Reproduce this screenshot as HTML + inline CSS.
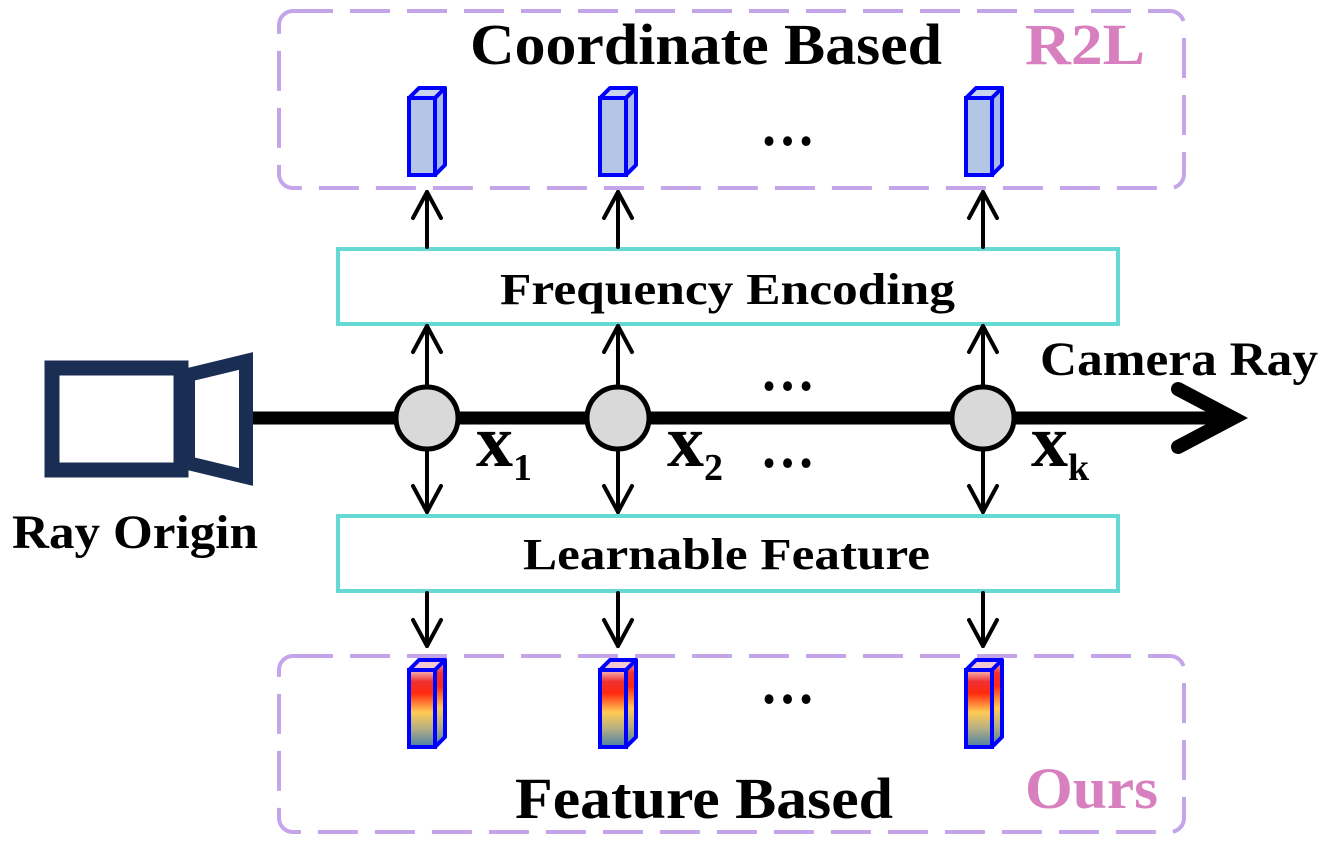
<!DOCTYPE html>
<html><head><meta charset="utf-8"><style>
html,body{margin:0;padding:0;background:#fff;}
svg{display:block;}
text{font-family:"Liberation Serif",serif;font-weight:bold;}
</style></head><body>
<svg width="1325" height="848" viewBox="0 0 1325 848" xmlns="http://www.w3.org/2000/svg">
<defs>
<linearGradient id="hg" x1="0" y1="0" x2="0" y2="1">
<stop offset="0" stop-color="#f7c0c0"/>
<stop offset="0.15" stop-color="#f03030"/>
<stop offset="0.3" stop-color="#ff2a10"/>
<stop offset="0.55" stop-color="#ffcc55"/>
<stop offset="0.75" stop-color="#b8b080"/>
<stop offset="1" stop-color="#4a80a8"/>
</linearGradient>
<g id="cubeA">
<polygon points="0,10 10,0 36,0 26,10" fill="#c8d4ee" stroke="#0000ff" stroke-width="4" stroke-linejoin="round"/>
<polygon points="26,10 36,0 36,77 26,87" fill="#a8b8e8" stroke="#0000ff" stroke-width="4" stroke-linejoin="round"/>
<rect x="0" y="10" width="26" height="77" fill="#b4c6e6" stroke="#0000ff" stroke-width="4"/>
</g>
<g id="cubeB">
<polygon points="0,10 10,0 36,0 26,10" fill="#f4c8d0" stroke="#0000ff" stroke-width="4" stroke-linejoin="round"/>
<polygon points="26,10 36,0 36,77 26,87" fill="url(#hg)" stroke="#0000ff" stroke-width="4" stroke-linejoin="round"/>
<rect x="0" y="10" width="26" height="77" fill="url(#hg)" stroke="#0000ff" stroke-width="4"/>
</g>
</defs>

<rect x="279" y="11" width="905" height="177" rx="14" fill="none" stroke="#c4a5ea" stroke-width="4" stroke-dasharray="40,17"/>
<rect x="279" y="656" width="905" height="176" rx="14" fill="none" stroke="#c4a5ea" stroke-width="4" stroke-dasharray="40,17"/>

<text x="470" y="64" font-size="58" textLength="472" lengthAdjust="spacingAndGlyphs">Coordinate Based</text>
<text x="1025" y="64" font-size="58" fill="#d87fbf" textLength="120" lengthAdjust="spacingAndGlyphs">R2L</text>
<text x="515" y="818" font-size="58" textLength="378" lengthAdjust="spacingAndGlyphs">Feature Based</text>
<text x="1025" y="808" font-size="58" fill="#d87fbf" textLength="133" lengthAdjust="spacingAndGlyphs">Ours</text>

<use href="#cubeA" x="409" y="88"/>
<use href="#cubeA" x="600" y="88"/>
<use href="#cubeA" x="966" y="88"/>
<use href="#cubeB" x="409" y="660"/>
<use href="#cubeB" x="600" y="660"/>
<use href="#cubeB" x="966" y="660"/>

<text x="760" y="145" font-size="60" textLength="55" lengthAdjust="spacingAndGlyphs">…</text>
<text x="760" y="390" font-size="60" textLength="55" lengthAdjust="spacingAndGlyphs">…</text>
<text x="760" y="467" font-size="60" textLength="55" lengthAdjust="spacingAndGlyphs">…</text>
<text x="760" y="703" font-size="60" textLength="55" lengthAdjust="spacingAndGlyphs">…</text>

<rect x="338" y="249" width="780" height="75" fill="#fff" stroke="#66d9d5" stroke-width="4"/>
<text x="500" y="304" font-size="44" textLength="455" lengthAdjust="spacingAndGlyphs">Frequency Encoding</text>
<rect x="338" y="516" width="780" height="75" fill="#fff" stroke="#66d9d5" stroke-width="4"/>
<text x="523" y="569" font-size="44" textLength="407" lengthAdjust="spacingAndGlyphs">Learnable Feature</text>

<g stroke="#000" stroke-width="4" fill="none" stroke-linecap="round" stroke-linejoin="round">
<g id="col">
<line x1="427" y1="247" x2="427" y2="192"/><polyline points="413,218 427,192 441,218"/>
<line x1="427" y1="385" x2="427" y2="326"/><polyline points="413,352 427,326 441,352"/>
<line x1="427" y1="451" x2="427" y2="512"/><polyline points="413,486 427,512 441,486"/>
<line x1="427" y1="593" x2="427" y2="646"/><polyline points="413,620 427,646 441,620"/>
</g>
<use href="#col" x="191"/>
<use href="#col" x="556"/>
</g>

<line x1="252" y1="418" x2="1225" y2="418" stroke="#000" stroke-width="13"/>
<polyline points="1178,389 1233,418 1178,447" fill="none" stroke="#000" stroke-width="14" stroke-linecap="round" stroke-linejoin="miter"/>
<g fill="#d9d9d9" stroke="#000" stroke-width="5">
<circle cx="427" cy="418" r="31"/>
<circle cx="618" cy="418" r="31"/>
<circle cx="983" cy="418" r="31"/>
</g>

<rect x="52" y="368" width="129" height="102" fill="none" stroke="#1a2d52" stroke-width="15"/>
<polygon points="188,375 246,361 246,477 188,463" fill="none" stroke="#1a2d52" stroke-width="14" stroke-linejoin="miter"/>

<text x="1040" y="375" font-size="48" textLength="278" lengthAdjust="spacingAndGlyphs">Camera Ray</text>
<text x="12" y="548" font-size="48" textLength="246" lengthAdjust="spacingAndGlyphs">Ray Origin</text>

<text x="476" y="466" font-size="74">x<tspan font-size="38" dy="14">1</tspan></text>
<text x="667" y="466" font-size="74">x<tspan font-size="38" dy="14">2</tspan></text>
<text x="1031" y="466" font-size="74">x<tspan font-size="38" dy="14">k</tspan></text>
</svg>
</body></html>
